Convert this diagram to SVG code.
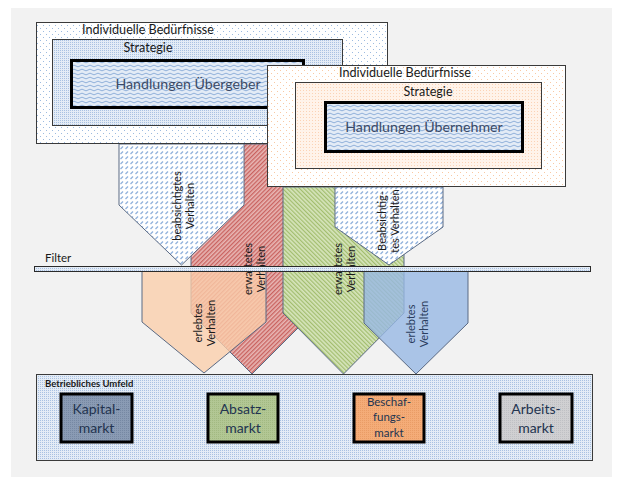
<svg xmlns="http://www.w3.org/2000/svg" width="621" height="483" viewBox="0 0 621 483">
<defs>
<pattern id="dotBlueSparse" width="6" height="6" patternUnits="userSpaceOnUse"><rect width="6" height="6" fill="#fff"/><rect x="1" y="1" width="1" height="1" fill="#9dbbe0"/><rect x="4" y="4" width="1" height="1" fill="#9dbbe0"/></pattern>
<pattern id="dotOrangeSparse" width="6" height="6" patternUnits="userSpaceOnUse"><rect width="6" height="6" fill="#fff"/><rect x="1" y="1" width="1" height="1" fill="#f9c9a4"/><rect x="4" y="4" width="1" height="1" fill="#f9c9a4"/></pattern>
<pattern id="dotBlueDense" width="2" height="2" patternUnits="userSpaceOnUse"><rect width="2" height="2" fill="#e4ecf6"/><rect width="1" height="1" fill="#a9c1e2"/></pattern>
<pattern id="dotOrangeDense" width="3" height="3" patternUnits="userSpaceOnUse"><rect width="3" height="3" fill="#fff3ea"/><rect width="1" height="1" fill="#fbd3b6"/></pattern>
<pattern id="wave" width="8" height="4" patternUnits="userSpaceOnUse"><rect width="8" height="4" fill="#e3ebf6"/><path d="M0 2 Q2 0.3 4 2 T8 2" fill="none" stroke="#86a8d6" stroke-width="0.9"/></pattern>
<pattern id="dash" width="5" height="5" patternUnits="userSpaceOnUse"><rect width="5" height="5" fill="#fff"/><path d="M0.5 4 L3 1.5" stroke="#8fb0dc" stroke-width="1.2"/></pattern>
<pattern id="redHatch" width="3" height="3" patternUnits="userSpaceOnUse" patternTransform="rotate(45)"><rect width="3" height="3" fill="#e8b6b4"/><rect width="1.3" height="3" fill="#c9625f"/></pattern>
<pattern id="greenHatch" width="3" height="3" patternUnits="userSpaceOnUse" patternTransform="rotate(-45)"><rect width="3" height="3" fill="#d6e4bb"/><rect width="1.2" height="3" fill="#a2bd6e"/></pattern>
<pattern id="dotSlate" width="2" height="2" patternUnits="userSpaceOnUse"><rect width="2" height="2" fill="#8a9bb4"/><rect width="1" height="1" fill="#7688a3"/></pattern>
<pattern id="dotGreen" width="2" height="2" patternUnits="userSpaceOnUse"><rect width="2" height="2" fill="#b2c794"/><rect width="1" height="1" fill="#a2b982"/></pattern>
<pattern id="dotOrange" width="2" height="2" patternUnits="userSpaceOnUse"><rect width="2" height="2" fill="#f4ac78"/><rect width="1" height="1" fill="#e99c66"/></pattern>
<pattern id="dotGrey" width="2" height="2" patternUnits="userSpaceOnUse"><rect width="2" height="2" fill="#d0d0d2"/><rect width="1" height="1" fill="#bfc0c4"/></pattern>
</defs>
<style>
text{font-family:Lato,"Liberation Sans",sans-serif;fill:#1a1a1a}
.box{stroke:#3a3a3a;stroke-width:1}
.thick{stroke:#000;stroke-width:3}
.arrow{stroke:#5a6a84;stroke-width:1}
.t12{font-size:12.6px}
.hand{font-size:14.2px;fill:#3b4a66;text-anchor:middle}
.at{font-size:11px;text-anchor:middle}
.mk{font-size:14px;fill:#233450;text-anchor:middle}
.mks{font-size:11.5px;fill:#233450;text-anchor:middle}
</style>
<rect x="11" y="8" width="601" height="469" fill="#f2f2f2"/>

<g id="arrows">
<g id="arrow-erwartet-rot"><path class="arrow" d="M191 144 H313 V313 L252 374 L191 313 Z" fill="url(#redHatch)"/></g>
<g id="arrow-erwartet-gruen"><path class="arrow" d="M283 187 H404 V313 L343.5 374 L283 313 Z" fill="url(#greenHatch)"/></g>
<g id="arrow-beabsichtigt-1"><path class="arrow" d="M119 144 H244 V205 L181.5 265 L119 205 Z" fill="url(#dash)"/></g>
<g id="arrow-beabsichtigt-2"><path class="arrow" d="M335 187 H443 V227 L389 265 L335 227 Z" fill="url(#dash)"/></g>
<g id="arrow-erlebt-orange"><path class="arrow" d="M142 271 H266 V322 L204 373 L142 322 Z" fill="#fbceab" fill-opacity="0.78"/></g>
<g id="arrow-erlebt-blau"><path class="arrow" d="M364 271 H468 V323 L416 374 L364 323 Z" fill="#97b8e3" fill-opacity="0.8"/></g>
</g>

<g id="uebergeber">
<rect class="box" x="36.5" y="22.5" width="351" height="121" fill="url(#dotBlueSparse)"/>
<text class="t12" x="148" y="34" text-anchor="middle">Individuelle Bedürfnisse</text>
<rect class="box" x="52.5" y="39.5" width="290" height="86" fill="url(#dotBlueDense)"/>
<text class="t12" x="148" y="52" text-anchor="middle">Strategie</text>
<rect class="thick" x="71.5" y="60.5" width="232" height="47" fill="url(#wave)"/>
<text class="hand" x="188" y="89">Handlungen Übergeber</text>
</g>

<g id="uebernehmer">
<rect class="box" x="267.5" y="65.5" width="298" height="121" fill="url(#dotOrangeSparse)"/>
<text class="t12" x="405" y="77" text-anchor="middle">Individuelle Bedürfnisse</text>
<rect class="box" x="295.5" y="82.5" width="246" height="86" fill="url(#dotOrangeDense)"/>
<text class="t12" x="428" y="96" text-anchor="middle">Strategie</text>
<rect class="thick" x="325.5" y="102.5" width="197" height="49" fill="url(#wave)"/>
<text class="hand" x="424" y="132">Handlungen Übernehmer</text>
</g>

<g id="arrow-labels">
<text class="at" transform="translate(181,206) rotate(-90)"><tspan x="0" y="0">beabsichtigtes</tspan><tspan x="0" y="13">Verhalten</tspan></text>
<text class="at" transform="translate(252,269) rotate(-90)"><tspan x="0" y="0">erwartetes</tspan><tspan x="0" y="13">Verhalten</tspan></text>
<text class="at" transform="translate(342,269) rotate(-90)"><tspan x="0" y="0">erwartetes</tspan><tspan x="0" y="13">Verhalten</tspan></text>
<text class="at" transform="translate(386,221) rotate(-90)"><tspan x="0" y="0">Beabsichtig-</tspan><tspan x="0" y="12.5">tes Verhalten</tspan></text>
<text class="at" transform="translate(202,323) rotate(-90)"><tspan x="0" y="0">erlebtes</tspan><tspan x="0" y="13">Verhalten</tspan></text>
<text class="at" style="fill:#2b3d5e" transform="translate(415,324) rotate(-90)"><tspan x="0" y="0">erlebtes</tspan><tspan x="0" y="13">Verhalten</tspan></text>
</g>

<g id="filter">
<text x="45" y="262" style="font-size:11.5px">Filter</text>
<rect x="34.5" y="266.5" width="556" height="5" fill="url(#dotBlueDense)" stroke="#2a2a2a" stroke-width="1"/>
</g>

<g id="umfeld">
<rect class="box" x="36.5" y="374.5" width="556" height="86" fill="url(#dotBlueDense)"/>
<text x="45" y="387" style="font-size:9.5px;font-weight:bold">Betriebliches Umfeld</text>
</g>
<g id="kapitalmarkt">
<rect class="thick" x="61" y="394" width="71" height="48" fill="url(#dotSlate)"/>
<text class="mk"><tspan x="96.5" y="414">Kapital-</tspan><tspan x="96.5" y="433">markt</tspan></text>
</g>
<g id="absatzmarkt">
<rect class="thick" x="208" y="394" width="70" height="48" fill="url(#dotGreen)"/>
<text class="mk"><tspan x="243" y="414">Absatz-</tspan><tspan x="243" y="433">markt</tspan></text>
</g>
<g id="beschaffungsmarkt">
<rect class="thick" x="354" y="394" width="70" height="48" fill="url(#dotOrange)"/>
<text class="mks"><tspan x="389" y="406">Beschaf-</tspan><tspan x="389" y="421">fungs-</tspan><tspan x="389" y="437">markt</tspan></text>
</g>
<g id="arbeitsmarkt">
<rect class="thick" x="500" y="394" width="72" height="48" fill="url(#dotGrey)"/>
<text class="mk"><tspan x="536" y="414">Arbeits-</tspan><tspan x="536" y="433">markt</tspan></text>
</g>
</svg>
